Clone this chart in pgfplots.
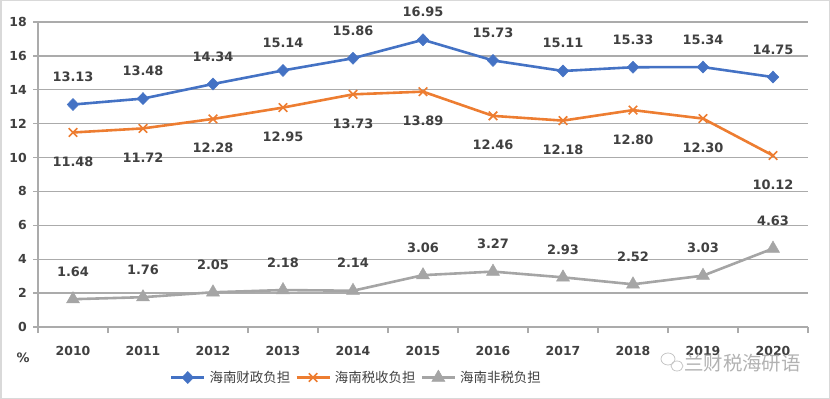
\documentclass[border=0pt]{standalone}
\usepackage{fontspec}
\setmainfont{DejaVu Sans}
\newfontfamily\cjk{Noto Sans CJK SC}
\usepackage{pgfplots}
\pgfplotsset{compat=1.18}
\definecolor{cblue}{HTML}{4472C4}
\definecolor{corange}{HTML}{ED7D31}
\definecolor{cgray}{HTML}{A5A5A5}
\definecolor{ctext}{HTML}{404040}
\definecolor{cgrid}{HTML}{ABABAB}
\definecolor{cframe}{HTML}{D9D9D9}
\begin{document}
\begin{tikzpicture}
\path[use as bounding box] (0,0) rectangle (830bp,399bp);
\draw[cframe, line width=1.5bp] (0.75bp,0.75bp) rectangle (829.25bp,398.25bp);
\begin{axis}[
  at={(38bp,72bp)}, anchor=south west,
  scale only axis, width=770bp, height=305bp,
  xmin=-0.5, xmax=10.5, ymin=0, ymax=18,
  axis lines*=left,
  axis line style={cgrid, line width=1.3bp},
  ytick={0,2,...,18},
  ymajorgrids, grid style={cgrid, line width=1.3bp},
  xtick={0,...,10},
  xticklabels={2010,2011,2012,2013,2014,2015,2016,2017,2018,2019,2020},
  minor xtick={-0.5,0.5,...,10.5},
  major x tick style={draw=none},
  tick align=outside,
  major tick length=5bp, minor tick length=6bp,
  tick style={cgrid, line width=1.3bp},
  minor tick style={cgrid, line width=1.3bp},
  /pgf/number format/assume math mode=true,
  ticklabel style={font=\bfseries\fontsize{12.5}{14}\selectfont, text=ctext},
  xticklabel style={anchor=north, inner sep=0pt, yshift=-14bp},
  yticklabel style={anchor=east, inner sep=0pt, xshift=-6bp},
  clip=false,
  legend style={at={(0.1714,-0.1639)}, anchor=west, draw=none, fill=none,
    inner sep=0pt, outer sep=0pt, nodes={inner sep=0pt},
    font=\cjk\fontsize{13.5}{15}\selectfont, text=ctext,
    /tikz/every odd column/.append style={column sep=4bp},
    /tikz/every even column/.append style={column sep=5bp}},
  legend columns=-1,
  legend image code/.code={\draw[mark repeat=2,mark phase=2,#1] plot coordinates {(0bp,0bp) (16.5bp,0bp) (33bp,0bp)};},
  nodes near coords={\pgfplotspointmeta},
  point meta=explicit symbolic,
  every node near coord/.append style={font=\bfseries\fontsize{13}{15}\selectfont, text=ctext, inner sep=0pt, anchor=base},
]
\addplot[cblue, line width=2.6bp, mark=diamond*, mark size=6bp, mark options={solid, fill=cblue, draw=cblue, line width=0.5bp, xscale=1.3},
  every node near coord/.append style={yshift=23bp}]
  coordinates {(0,13.13)[13.13] (1,13.48)[13.48] (2,14.34)[14.34] (3,15.14)[15.14] (4,15.86)[15.86] (5,16.95)[16.95] (6,15.73)[15.73] (7,15.11)[15.11] (8,15.33)[15.33] (9,15.34)[15.34] (10,14.75)[14.75]};
\addlegendentry{海南财政负担}
\addplot[corange, line width=2.6bp, mark=x, mark size=6bp, mark options={solid, draw=corange, line width=1.6bp},
  every node near coord/.append style={yshift=-34bp}]
  coordinates {(0,11.48)[11.48] (1,11.72)[11.72] (2,12.28)[12.28] (3,12.95)[12.95] (4,13.73)[13.73] (5,13.89)[13.89] (6,12.46)[12.46] (7,12.18)[12.18] (8,12.80)[12.80] (9,12.30)[12.30] (10,10.12)[10.12]};
\addlegendentry{海南税收负担}
\addplot[cgray, line width=2.6bp, mark=triangle*, mark size=7.5bp, mark options={solid, fill=cgray, draw=cgray, line width=0.5bp},
  every node near coord/.append style={yshift=23bp}]
  coordinates {(0,1.64)[1.64] (1,1.76)[1.76] (2,2.05)[2.05] (3,2.18)[2.18] (4,2.14)[2.14] (5,3.06)[3.06] (6,3.27)[3.27] (7,2.93)[2.93] (8,2.52)[2.52] (9,3.03)[3.03] (10,4.63)[4.63]};
\addlegendentry{海南非税负担}
\end{axis}
\node[font=\bfseries\fontsize{13}{15}\selectfont, text=ctext] at (23bp,41bp) {\%};
\draw[gray!45, line width=0.8bp] (668bp,40bp) ellipse (7bp and 6bp);
\draw[gray!45, line width=0.8bp] (677bp,33bp) ellipse (6bp and 5bp);
\node[font=\cjk\fontsize{19.5}{21}\selectfont, text=gray!60, anchor=west, inner sep=0pt] at (684bp,36bp) {兰财税海研语};
\end{tikzpicture}
\end{document}
